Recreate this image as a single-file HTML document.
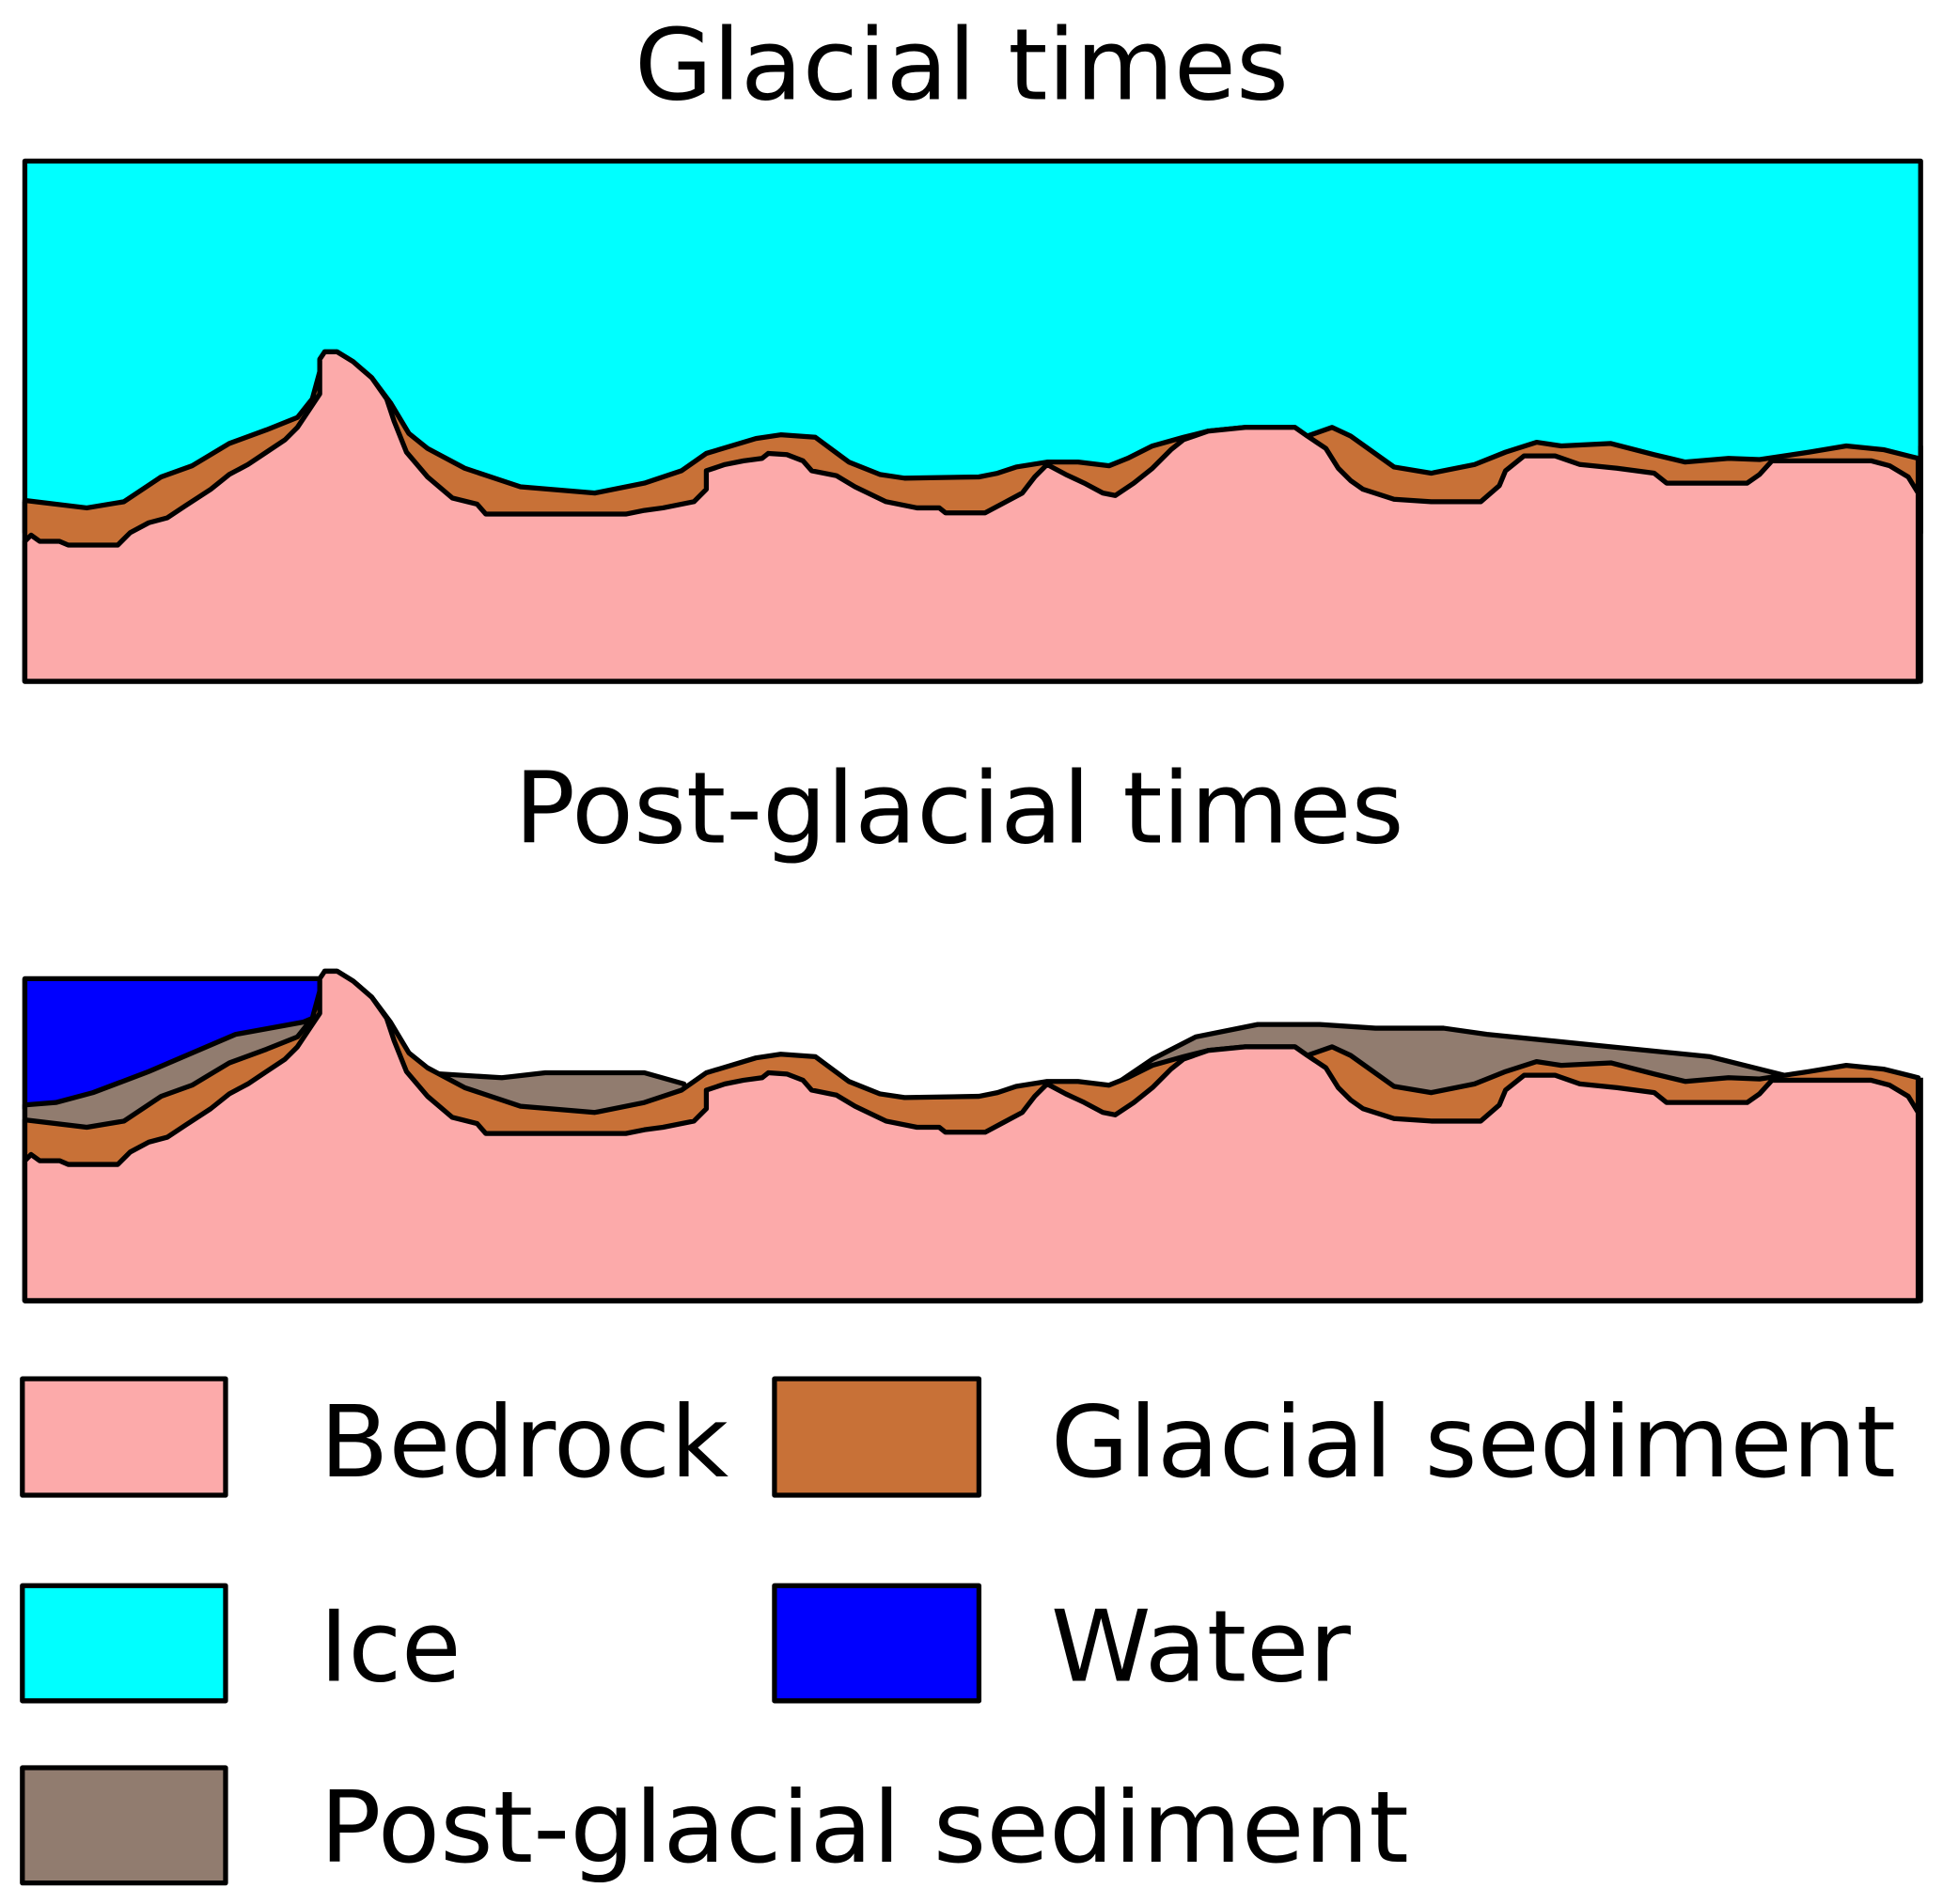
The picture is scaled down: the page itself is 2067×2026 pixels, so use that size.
<!DOCTYPE html>
<html><head><meta charset="utf-8"><style>
html,body{margin:0;padding:0;background:#fff;}
svg{display:block;}
text{font-family:"DejaVu Sans","Liberation Sans",sans-serif;fill:#000;}
</style></head><body>
<svg width="2067" height="2026" viewBox="0 0 1568 1537" xmlns="http://www.w3.org/2000/svg">
<defs>
<path id="sed" d="M20,404 L70,410 L100,405 L130,385 L155,376 L185,358 L215,347 L240,337 L252,322 L258,300 L262,284 L272,284 L285,292 L300,305 L315,325 L330,350 L345,362 L375,378 L420,393 L480,398 L520,390 L550,380 L570,366 L610,354 L630,351 L658,353 L685,373 L710,383 L730,386 L790,385 L805,382 L820,377 L845,373 L870,373 L895,376 L910,370 L930,360 L955,353 L975,348 L1005,345 L1045,345 L1055,352 L1075,345 L1090,352 L1125,377 L1155,382 L1190,375 L1215,365 L1240,357 L1260,360 L1300,358 L1335,367 L1360,373 L1395,370 L1420,371 L1460,365 L1490,360 L1520,363 L1548,370 L1548,550 L20,550 Z"/>
<path id="bed" d="M20,437 L25,432 L32,437 L48,437 L55,440 L95,440 L105,430 L120,422 L135,418 L150,408 L170,395 L185,383 L200,375 L215,365 L230,355 L240,345 L250,330 L258,318 L258,290 L262,284 L272,284 L285,292 L300,305 L312,322 L318,340 L328,365 L345,385 L365,402 L385,407 L392,415 L505,415 L520,412 L535,410 L560,405 L570,395 L570,380 L585,375 L600,372 L615,370 L620,366 L635,367 L648,372 L655,380 L675,384 L690,393 L715,405 L740,410 L758,410 L763,414 L795,414 L810,406 L825,398 L835,385 L845,375 L860,383 L875,390 L890,398 L900,400 L915,390 L930,378 L945,363 L955,355 L975,348 L1005,345 L1045,345 L1055,352 L1070,362 L1080,378 L1090,388 L1100,395 L1125,403 L1155,405 L1195,405 L1210,392 L1215,380 L1230,368 L1255,368 L1275,375 L1305,378 L1335,382 L1345,390 L1410,390 L1420,383 L1430,372 L1470,372 L1510,372 L1525,376 L1540,385 L1548,398 L1548,550 L20,550 Z"/>
</defs>
<g stroke="#000" stroke-width="4" stroke-linejoin="round">
<rect x="20" y="130" width="1530" height="300" fill="#00ffff"/>
<use href="#sed" fill="#c87137"/>
<use href="#bed" fill="#fcaaaa"/>
<path d="M20,405 L20,550 L1550,550 L1550,360" fill="none"/>
<rect x="20" y="790" width="238" height="105" fill="#0000ff"/>
<path d="M20,892 L45,890 L75,882 L120,865 L190,835 L245,825 L252,822 L252,960 L20,960 Z" fill="#917c6f"/>
<path d="M340,866 L405,870 L440,866 L520,866 L552,875 L560,900 L340,900 Z" fill="#917c6f"/>
<path d="M905,872 L930,855 L965,837 L1015,827 L1065,827 L1110,830 L1165,830 L1200,835 L1300,845 L1380,853 L1440,868 L1430,900 L905,900 Z" fill="#917c6f"/>
<g transform="translate(0,500)">
<use href="#sed" fill="#c87137"/>
<use href="#bed" fill="#fcaaaa"/>
</g>
<path d="M20,790 L20,1050 L1550,1050 L1550,870" fill="none"/>
<rect x="18" y="1113" width="164" height="94" fill="#fcaaaa"/>
<rect x="625" y="1113" width="165" height="94" fill="#c87137"/>
<rect x="18" y="1280" width="164" height="93" fill="#00ffff"/>
<rect x="625" y="1280" width="165" height="93" fill="#0000ff"/>
<rect x="18" y="1427" width="164" height="93" fill="#917c6f"/>
</g>
<g font-size="80">
<text x="512" y="80" textLength="528" lengthAdjust="spacingAndGlyphs">Glacial times</text>
<text x="415" y="680" textLength="718" lengthAdjust="spacingAndGlyphs">Post-glacial times</text>
<text x="258" y="1192" textLength="330" lengthAdjust="spacingAndGlyphs">Bedrock</text>
<text x="848" y="1192" textLength="682" lengthAdjust="spacingAndGlyphs">Glacial sediment</text>
<text x="258" y="1357" textLength="114" lengthAdjust="spacingAndGlyphs">Ice</text>
<text x="848" y="1357" textLength="242" lengthAdjust="spacingAndGlyphs">Water</text>
<text x="258" y="1503" textLength="879" lengthAdjust="spacingAndGlyphs">Post-glacial sediment</text>
</g>
</svg>
</body></html>
